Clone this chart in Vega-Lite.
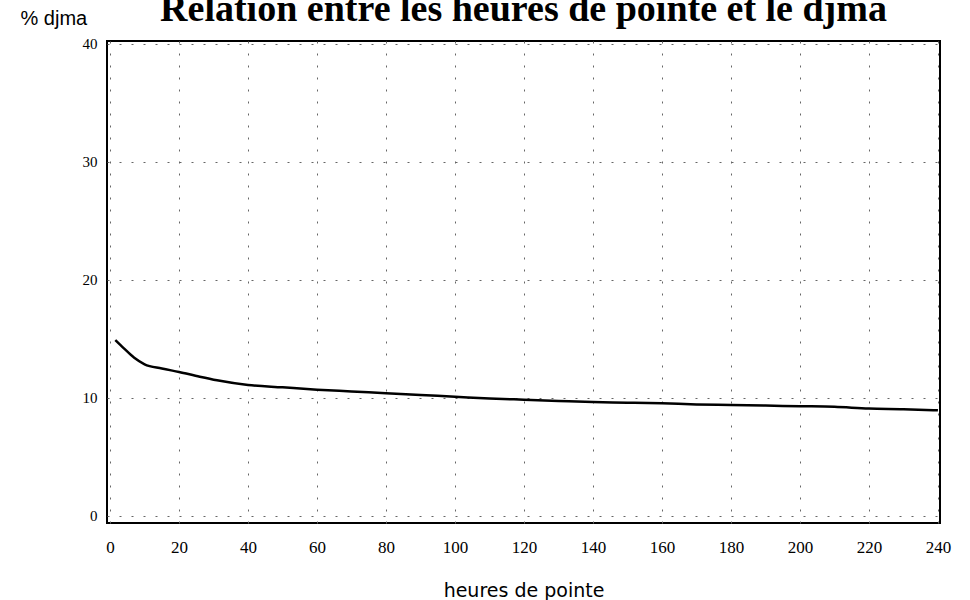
{
  "$schema": "https://vega.github.io/schema/vega-lite/v6.json",
  "autosize": "none",
  "width": 833,
  "height": 482,
  "padding": {"left": 107, "top": 41, "right": 30, "bottom": 77},
  "background": "white",
  "title": {
    "text": "Relation entre les heures de pointe et le djma",
    "font": "Liberation Serif",
    "fontSize": 38,
    "fontWeight": "bold",
    "color": "black",
    "anchor": "middle",
    "baseline": "alphabetic",
    "offset": 0,
    "dy": 51
  },
  "config": {
    "view": {"stroke": "black", "strokeWidth": 2}
  },
  "data": {
    "values": [
      {"heures": 1.5, "pct": 14.9},
      {"heures": 4, "pct": 14.2},
      {"heures": 7, "pct": 13.4},
      {"heures": 10, "pct": 12.85},
      {"heures": 15, "pct": 12.5},
      {"heures": 20, "pct": 12.2},
      {"heures": 26, "pct": 11.8},
      {"heures": 31, "pct": 11.5},
      {"heures": 40, "pct": 11.1},
      {"heures": 50, "pct": 10.9},
      {"heures": 60, "pct": 10.7},
      {"heures": 70, "pct": 10.55},
      {"heures": 80, "pct": 10.4},
      {"heures": 90, "pct": 10.25},
      {"heures": 100, "pct": 10.1},
      {"heures": 110, "pct": 9.95},
      {"heures": 120, "pct": 9.85},
      {"heures": 130, "pct": 9.75},
      {"heures": 140, "pct": 9.65},
      {"heures": 150, "pct": 9.6},
      {"heures": 160, "pct": 9.55},
      {"heures": 170, "pct": 9.45},
      {"heures": 180, "pct": 9.4},
      {"heures": 190, "pct": 9.35},
      {"heures": 200, "pct": 9.3},
      {"heures": 210, "pct": 9.25},
      {"heures": 220, "pct": 9.1},
      {"heures": 230, "pct": 9.05},
      {"heures": 240, "pct": 8.95}
    ]
  },
  "mark": {"type": "line", "color": "black", "strokeWidth": 2.5, "interpolate": "monotone"},
  "encoding": {
    "x": {
      "field": "heures",
      "type": "quantitative",
      "scale": {"domain": [-0.9, 240.6], "nice": false, "zero": false},
      "axis": {
        "values": [0, 20, 40, 60, 80, 100, 120, 140, 160, 180, 200, 220, 240],
        "title": "heures de pointe",
        "titleFont": "DejaVu Sans",
        "titleFontSize": 19,
        "titleFontWeight": "normal",
        "titleColor": "black",
        "titleBaseline": "alphabetic",
        "titleY": 73,
        "labelFont": "Liberation Serif",
        "labelFontSize": 17,
        "labelColor": "black",
        "labelPadding": 16,
        "labelFlush": false,
        "labelOverlap": false,
        "ticks": false,
        "domain": false,
        "grid": true,
        "gridColor": "#666666",
        "gridDash": [2, 10],
        "gridWidth": 1
      }
    },
    "y": {
      "field": "pct",
      "type": "quantitative",
      "scale": {"domain": [-0.6, 40.25], "nice": false, "zero": false},
      "axis": {
        "values": [0, 10, 20, 30, 40],
        "title": "% djma",
        "titleFont": "Liberation Sans",
        "titleFontSize": 20,
        "titleFontWeight": "normal",
        "titleColor": "black",
        "titleAngle": 0,
        "titleAlign": "left",
        "titleBaseline": "middle",
        "titleX": -87,
        "titleY": -23,
        "labelFont": "Liberation Serif",
        "labelFontSize": 15,
        "labelColor": "black",
        "labelPadding": 10,
        "labelFlush": false,
        "ticks": false,
        "domain": false,
        "grid": true,
        "gridColor": "#666666",
        "gridDash": [2, 10],
        "gridWidth": 1
      }
    }
  }
}
